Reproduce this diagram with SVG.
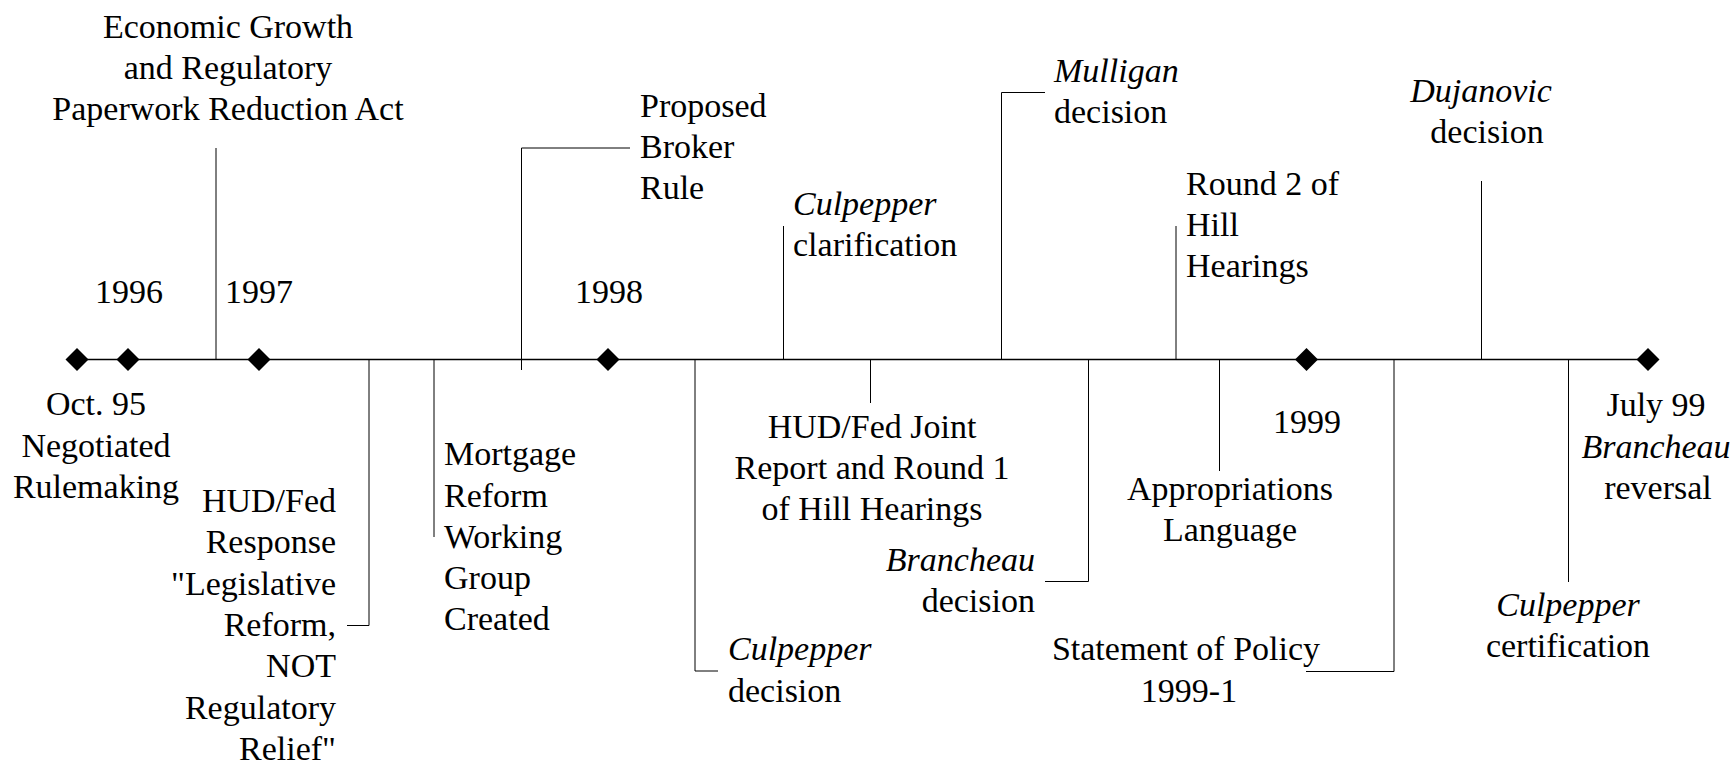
<svg xmlns="http://www.w3.org/2000/svg" width="1734" height="764" viewBox="0 0 1734 764">
<defs>
<polygon id="dia" points="0,-11.5 11.5,0 0,11.5 -11.5,0" fill="#000"/>
</defs>
<rect width="1734" height="764" fill="#fff"/>
<g id="connectors" fill="none" stroke="#000" stroke-width="1">
<path d="M77 359.5H1648" stroke-width="1.3"/>
<path d="M216 148V359"/>
<path d="M369 359V625.5H347"/>
<path d="M434 359V537"/>
<path d="M521.5 370V148H630"/>
<path d="M783.5 359V226"/>
<path d="M870.5 359V403"/>
<path d="M695 359V671H718"/>
<path d="M1001.5 359V92.5H1045"/>
<path d="M1088.5 359V581.5H1045"/>
<path d="M1176 359V226"/>
<path d="M1219.5 359V471"/>
<path d="M1394 359V671.5H1306"/>
<path d="M1481.5 359V181"/>
<path d="M1568.5 359V582"/>
</g>
<g id="markers">
<use href="#dia" x="77" y="359.5"/>
<use href="#dia" x="128" y="359.5"/>
<use href="#dia" x="259" y="359.5"/>
<use href="#dia" x="608" y="359.5"/>
<use href="#dia" x="1306.5" y="359.5"/>
<use href="#dia" x="1648" y="359.5"/>
</g>
<g id="years">
<text font-family="Liberation Serif" font-size="34" text-anchor="middle" x="129" y="303">1996</text>
<text font-family="Liberation Serif" font-size="34" text-anchor="middle" x="259" y="303">1997</text>
<text font-family="Liberation Serif" font-size="34" text-anchor="middle" x="609" y="303">1998</text>
<text font-family="Liberation Serif" font-size="34" text-anchor="middle" x="1307" y="433">1999</text>
</g>
<g id="econ">
<text font-family="Liberation Serif" font-size="34" text-anchor="middle" x="228" y="38">Economic Growth</text>
<text font-family="Liberation Serif" font-size="34" text-anchor="middle" x="228" y="79">and Regulatory</text>
<text font-family="Liberation Serif" font-size="34" text-anchor="middle" x="228" y="120">Paperwork Reduction Act</text>
</g>
<g id="oct95">
<text font-family="Liberation Serif" font-size="34" text-anchor="middle" x="96" y="415">Oct. 95</text>
<text font-family="Liberation Serif" font-size="34" text-anchor="middle" x="96" y="456.5">Negotiated</text>
<text font-family="Liberation Serif" font-size="34" text-anchor="middle" x="96" y="498">Rulemaking</text>
</g>
<g id="hudresp">
<text font-family="Liberation Serif" font-size="34" text-anchor="end" x="336" y="511.5">HUD/Fed</text>
<text font-family="Liberation Serif" font-size="34" text-anchor="end" x="336" y="553">Response</text>
<text font-family="Liberation Serif" font-size="34" text-anchor="end" x="336" y="594.5">"Legislative</text>
<text font-family="Liberation Serif" font-size="34" text-anchor="end" x="336" y="636">Reform,</text>
<text font-family="Liberation Serif" font-size="34" text-anchor="end" x="336" y="677">NOT</text>
<text font-family="Liberation Serif" font-size="34" text-anchor="end" x="336" y="718.5">Regulatory</text>
<text font-family="Liberation Serif" font-size="34" text-anchor="end" x="336" y="760">Relief"</text>
</g>
<g id="mortgage">
<text font-family="Liberation Serif" font-size="34" x="444" y="465">Mortgage</text>
<text font-family="Liberation Serif" font-size="34" x="444" y="506.5">Reform</text>
<text font-family="Liberation Serif" font-size="34" x="444" y="548">Working</text>
<text font-family="Liberation Serif" font-size="34" x="444" y="589">Group</text>
<text font-family="Liberation Serif" font-size="34" x="444" y="630">Created</text>
</g>
<g id="broker">
<text font-family="Liberation Serif" font-size="34" x="640" y="117">Proposed</text>
<text font-family="Liberation Serif" font-size="34" x="640" y="158">Broker</text>
<text font-family="Liberation Serif" font-size="34" x="640" y="199">Rule</text>
</g>
<g id="culpclar">
<text font-family="Liberation Serif" font-size="34" font-style="italic" x="793" y="215">Culpepper</text>
<text font-family="Liberation Serif" font-size="34" x="793" y="256">clarification</text>
</g>
<g id="hudjoint">
<text font-family="Liberation Serif" font-size="34" text-anchor="middle" x="872" y="438">HUD/Fed Joint</text>
<text font-family="Liberation Serif" font-size="34" text-anchor="middle" x="872" y="479">Report and Round 1</text>
<text font-family="Liberation Serif" font-size="34" text-anchor="middle" x="872" y="520">of Hill Hearings</text>
</g>
<g id="culpdec">
<text font-family="Liberation Serif" font-size="34" font-style="italic" x="728" y="660">Culpepper</text>
<text font-family="Liberation Serif" font-size="34" x="728" y="701.5">decision</text>
</g>
<g id="mulligan">
<text font-family="Liberation Serif" font-size="34" font-style="italic" x="1054" y="82">Mulligan</text>
<text font-family="Liberation Serif" font-size="34" x="1054" y="123">decision</text>
</g>
<g id="branchdec">
<text font-family="Liberation Serif" font-size="34" font-style="italic" text-anchor="end" x="1035" y="571">Brancheau</text>
<text font-family="Liberation Serif" font-size="34" text-anchor="end" x="1035" y="612">decision</text>
</g>
<g id="round2">
<text font-family="Liberation Serif" font-size="34" x="1186" y="195">Round 2 of</text>
<text font-family="Liberation Serif" font-size="34" x="1186" y="236">Hill</text>
<text font-family="Liberation Serif" font-size="34" x="1186" y="277">Hearings</text>
</g>
<g id="approp">
<text font-family="Liberation Serif" font-size="34" text-anchor="middle" x="1230" y="500">Appropriations</text>
<text font-family="Liberation Serif" font-size="34" text-anchor="middle" x="1230" y="541">Language</text>
</g>
<g id="policy">
<text font-family="Liberation Serif" font-size="34" text-anchor="middle" x="1186" y="660">Statement of Policy</text>
<text font-family="Liberation Serif" font-size="34" text-anchor="middle" x="1189" y="701.5">1999-1</text>
</g>
<g id="dujanovic">
<text font-family="Liberation Serif" font-size="34" font-style="italic" text-anchor="middle" x="1481" y="102">Dujanovic</text>
<text font-family="Liberation Serif" font-size="34" text-anchor="middle" x="1487" y="143">decision</text>
</g>
<g id="july99">
<text font-family="Liberation Serif" font-size="34" text-anchor="middle" x="1656" y="416">July 99</text>
<text font-family="Liberation Serif" font-size="34" font-style="italic" text-anchor="middle" x="1656" y="457.5">Brancheau</text>
<text font-family="Liberation Serif" font-size="34" text-anchor="middle" x="1658" y="499">reversal</text>
</g>
<g id="culpcert">
<text font-family="Liberation Serif" font-size="34" font-style="italic" text-anchor="middle" x="1568" y="616">Culpepper</text>
<text font-family="Liberation Serif" font-size="34" text-anchor="middle" x="1568" y="657">certification</text>
</g>
</svg>
